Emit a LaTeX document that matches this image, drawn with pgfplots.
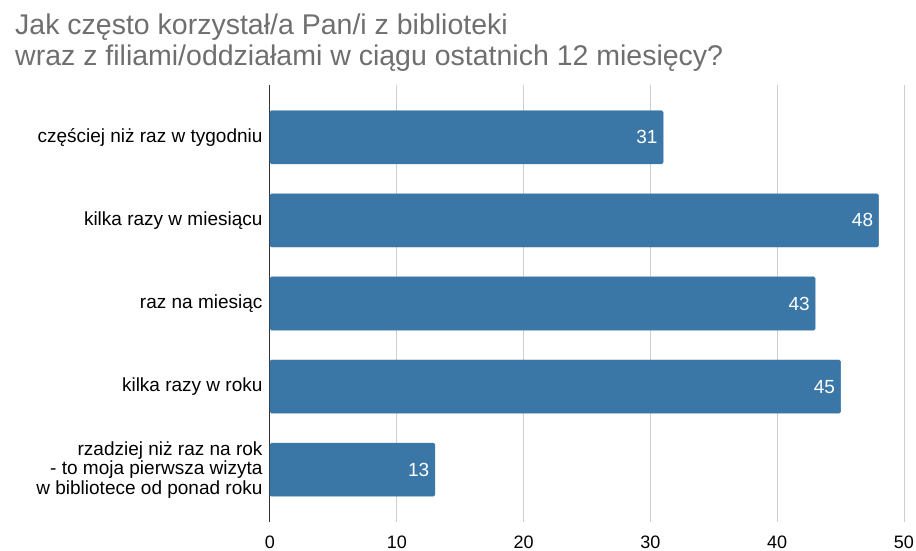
\documentclass[border=0pt]{standalone}
\usepackage{pgfplots}
\pgfplotsset{compat=1.18}
\usepackage{fontspec}
\setmainfont{Liberation Sans}
\definecolor{barblue}{HTML}{3A77A7}
\definecolor{titlegray}{HTML}{6F6F6F}
\definecolor{gridgray}{HTML}{CFCFCF}
\definecolor{axisdark}{HTML}{333333}
\begin{document}
\begin{tikzpicture}
\path[use as bounding box] (-270pt,-29pt) rectangle (646pt,522pt);
\node[anchor=base west, inner sep=0pt, text=titlegray, font=\fontsize{28.5}{31}\selectfont]
  at (-255pt,487pt) {Jak często korzystał/a Pan/i z biblioteki};
\node[anchor=base west, inner sep=0pt, text=titlegray, font=\fontsize{28.5}{31}\selectfont]
  at (-255pt,456pt) {wraz z filiami/oddziałami w ciągu ostatnich 12 miesięcy?};
\begin{axis}[
  at={(0pt,0pt)}, anchor=south west,
  scale only axis, width=634pt, height=437pt,
  xbar, bar width=0.64, y dir=reverse,
  xmin=0, xmax=50, ymin=-0.63, ymax=4.63,
  xtick={10,20,...,50}, extra x ticks={0},
  extra x tick style={grid style={draw=axisdark, line width=1pt}},
  ytick={0,1,2,3,4},
  yticklabels={częściej niż raz w tygodniu, kilka razy w miesiącu, raz na miesiąc, kilka razy w roku,
    {rzadziej niż raz na rok\\- to moja pierwsza wizyta\\w bibliotece od ponad roku}},
  yticklabel style={align=right, font=\fontsize{19}{19.5}\selectfont, text=black, xshift=-4pt},
  xticklabel style={font=\fontsize{18}{18}\selectfont, inner sep=0pt, yshift=-14pt, text=black},
  /pgf/number format/assume math mode=true,
  axis line style={draw=none},
  major tick length=0pt,
  xmajorgrids, grid style={draw=gridgray, line width=0.8pt},
  nodes near coords,
  nodes near coords style={anchor=east, text=white, xshift=-2pt, font=\fontsize{19}{19}\selectfont},
]
\addplot[fill=barblue, draw=barblue, rounded corners=1.5pt]
  coordinates {(31,0) (48,1) (43,2) (45,3) (13,4)};
\end{axis}
\end{tikzpicture}
\end{document}
